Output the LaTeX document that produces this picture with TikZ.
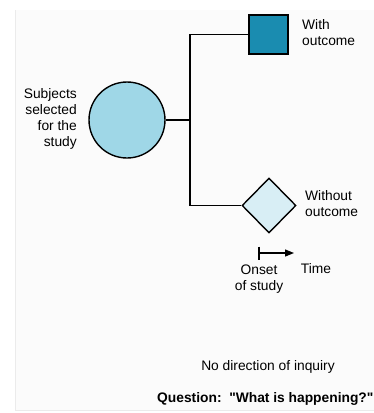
\documentclass[tikz,border=0pt]{standalone}
\usepackage{fontspec}
\setmainfont{Liberation Sans}[Ligatures=TeXOff]
\usetikzlibrary{shapes.geometric,arrows.meta}
\definecolor{circfill}{HTML}{9FD7E7}
\definecolor{sqfill}{HTML}{1A8CB0}
\definecolor{diafill}{HTML}{D8EEF5}
\definecolor{panel}{HTML}{FBFBFB}
\begin{document}
\begin{tikzpicture}[x=1pt,y=-1pt,
  lbl/.style={font=\fontsize{13.8}{16}\selectfont, inner sep=0pt},
  conn/.style={line width=1.4pt},
  shp/.style={draw=black, line width=1.4pt}]
\useasboundingbox (0,0) rectangle (374,413);
\fill[white] (0,0) rectangle (374,413);
\fill[panel] (15,10) rectangle (374,410);
\draw[black!8, line width=0.8pt] (15.5,10) -- (15.5,410) -- (374,410);
% shapes
\node[shp, circle, fill=circfill, minimum size=76pt, inner sep=0pt] (subj) at (127,120) {};
\node[shp, rectangle, fill=sqfill, minimum width=39pt, minimum height=39pt, inner sep=0pt] (with) at (268.5,34.5) {};
\node[shp, diamond, fill=diafill, minimum width=54pt, minimum height=55pt, inner sep=0pt] (without) at (269,205.5) {};
\coordinate (br) at (190,120);
\coordinate (top) at (190,34.5);
\coordinate (bot) at (190,205.5);
\draw[conn] (subj.east) -- (br);
\draw[conn] (with.west) -- (top) -- (bot) -- (without.west);
% labels
\node[lbl, align=right, anchor=east] (subjl) at (77,119) {Subjects\\selected\\for the\\study};
\node[lbl, align=left, anchor=west] (withl) at (302,33) {With\\outcome};
\node[lbl, align=left, anchor=west] (withoutl) at (305,204) {Without\\outcome};
% time
\coordinate (t0) at (259,253);
\coordinate (t1) at (294,253);
\coordinate (tk1) at (259,246.5);
\coordinate (tk2) at (259,260);
\draw[line width=1.2pt] (tk1) -- (tk2);
\draw[line width=1.2pt, -{Triangle[length=9pt,width=7pt]}] (t0) -- (t1);
\node[lbl, align=center] (onset) at (259,279) {Onset\\of study};
\node[lbl] (time) at (316,269) {Time};
\node[lbl] (nodir) at (268,367) {No direction of inquiry};
\node[lbl, font=\fontsize{13.8}{16}\selectfont\bfseries, anchor=west] (q) at (157,399) {Question:~~"What is happening?"};
\end{tikzpicture}
\end{document}
